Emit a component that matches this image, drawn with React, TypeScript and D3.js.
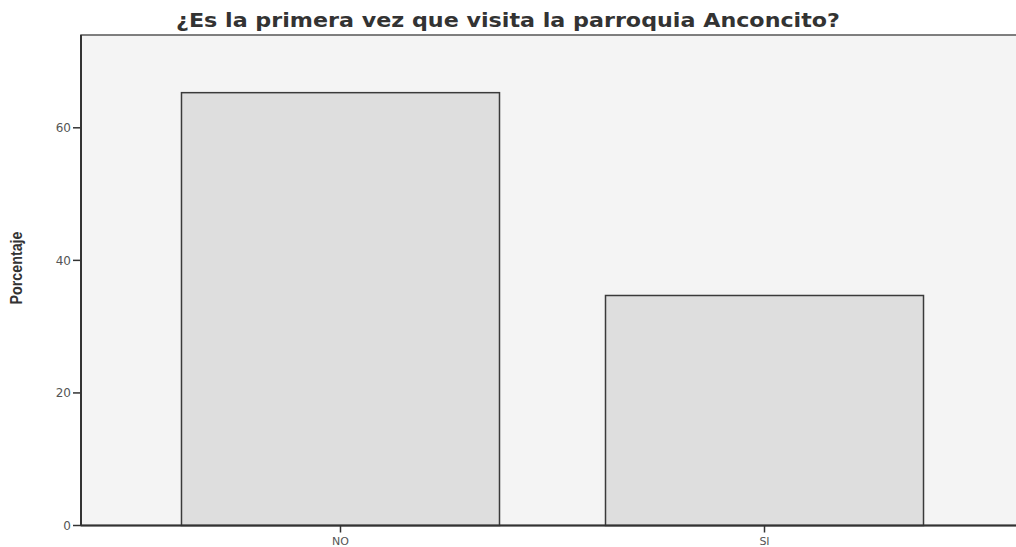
import React from "react";
import * as d3 from "d3";

const categories = ["NO", "SI"];
const percentages = [65.3, 34.7];
const yTicks = [0, 20, 40, 60];
const title = "¿Es la primera vez que visita la parroquia Anconcito?";
const yLabel = "Porcentaje";

export default function App() {
  const W = 1016, H = 547;
  const left = 81, top = 35, bottom = 525.5, right = 1024;
  const y = d3.scaleLinear().domain([0, 74]).range([bottom, top]);
  const x = d3.scaleBand<string>().domain(categories).range([left, right]).paddingInner(0.25).paddingOuter(0.237);
  const data = categories.map((c, i) => ({ c, v: percentages[i] }));
  return (
    <svg width={W} height={H} style={{ position: "absolute", left: 0, top: 0, background: "#fff" }}>
      <rect x={0} y={0} width={W} height={H} fill="#ffffff" />
      <rect x={left} y={top} width={W - left + 5} height={bottom - top} fill="#f4f4f4" stroke="#555" strokeWidth={1.5} />
      {data.map((d) => (
        <rect key={d.c} x={x(d.c)} y={y(d.v)} width={x.bandwidth()} height={bottom - y(d.v)} fill="#dedede" stroke="#3a3a3a" strokeWidth={1.5} />
      ))}
      <line x1={left} x2={left} y1={top} y2={bottom} stroke="#333" strokeWidth={2} />
      <line x1={left} x2={W} y1={bottom} y2={bottom} stroke="#333" strokeWidth={2} />
      {yTicks.map((t) => (
        <g key={t}>
          <line x1={left - 8} x2={left} y1={y(t)} y2={y(t)} stroke="#333" strokeWidth={1.5} />
          <text x={left - 10} y={y(t)} dy="0.36em" textAnchor="end" fontFamily="DejaVu Sans, Verdana, sans-serif" fontSize={12} fill="#555">{t}</text>
        </g>
      ))}
      {categories.map((c) => {
        const cx = (x(c) as number) + x.bandwidth() / 2;
        return (
          <g key={c}>
            <line x1={cx} x2={cx} y1={bottom} y2={bottom + 7} stroke="#333" strokeWidth={1.5} />
            <text x={cx} y={bottom + 19} textAnchor="middle" fontFamily="DejaVu Sans, Verdana, sans-serif" fontSize={11} fill="#555">{c}</text>
          </g>
        );
      })}
      <text x={176} y={27} textLength={664} lengthAdjust="spacingAndGlyphs" fontFamily="DejaVu Sans, Verdana, sans-serif" fontWeight="bold" fontSize={19} fill="#333">{title}</text>
      <text transform={`translate(22, 268) rotate(-90)`} textAnchor="middle" textLength={73} lengthAdjust="spacingAndGlyphs" fontFamily="Liberation Sans, Arial, sans-serif" fontWeight="bold" fontSize={16} fill="#333">{yLabel}</text>
    </svg>
  );
}
